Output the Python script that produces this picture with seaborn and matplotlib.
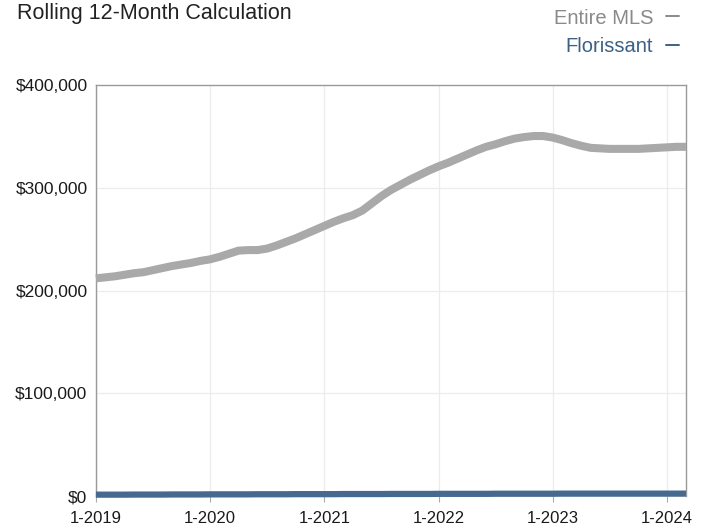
import matplotlib
matplotlib.use("Agg")
import matplotlib.pyplot as plt
from matplotlib.lines import Line2D
import pandas as pd
import seaborn as sns

# Monthly rolling 12-month values, Jan 2019 through Mar 2024
months = pd.date_range("2019-01-01", "2024-03-01", freq="MS")

entire_mls = [
    212000, 213000, 214000, 215500, 217000, 218000, 220000, 222000, 224000, 225500,
    227000, 229000, 230500, 233000, 236000, 239000, 239500, 239500, 241000, 244000,
    247500, 251000, 255000, 259000, 263000, 267000, 270500, 273500, 278000, 285000,
    292000, 298000, 303000, 308000, 312500, 317000, 321000, 324500, 328500, 332500,
    336500, 340000, 342500, 345500, 348000, 349500, 350500, 350500, 349000, 346500,
    343500, 341000, 339000, 338500, 338000, 338000, 338000, 338000, 338500, 339000,
    339500, 340000, 340000,
]

florissant = [
    1500, 1500, 1500, 1500, 1600, 1600, 1600, 1600, 1700, 1700,
    1700, 1700, 1800, 1800, 1800, 1800, 1800, 1900, 1900, 1900,
    1900, 2000, 2000, 2000, 2000, 2000, 2100, 2100, 2100, 2100,
    2100, 2200, 2200, 2200, 2200, 2200, 2300, 2300, 2300, 2300,
    2300, 2300, 2400, 2400, 2400, 2400, 2400, 2400, 2400, 2500,
    2500, 2500, 2500, 2500, 2500, 2500, 2500, 2500, 2500, 2500,
    2500, 2500, 2500,
]

series_names = ["Entire MLS", "Florissant"]
series_colors = ["#a9a9a9", "#45698f"]
legend_colors = ["#8a8a8a", "#3b6186"]

year_ticks = [0, 12, 24, 36, 48, 60]
year_labels = ["1-2019", "1-2020", "1-2021", "1-2022", "1-2023", "1-2024"]
y_ticks = [0, 100000, 200000, 300000, 400000]
y_labels = ["$0", "$100,000", "$200,000", "$300,000", "$400,000"]

sns.set_theme(style="white")
plt.rcParams["font.family"] = ["Liberation Sans", "DejaVu Sans"]

n = len(months)
df = pd.DataFrame({
    "idx": list(range(n)) * 2,
    "value": entire_mls + florissant,
    "series": [series_names[0]] * n + [series_names[1]] * n,
})

fig = plt.figure(figsize=(7.05, 5.29), dpi=100)
ax = fig.add_axes([0.136, 0.062, 0.837, 0.777])

ax.set_xlim(0, n - 1)
ax.set_ylim(0, 400000)

# faint grid
for t in year_ticks:
    ax.axvline(t, color="#ececec", lw=0.9, zorder=0)
for t in y_ticks[1:-1]:
    ax.axhline(t, color="#ececec", lw=0.9, zorder=0)

sns.lineplot(data=df[df["series"] == series_names[0]], x="idx", y="value",
             color=series_colors[0], lw=5.8, ax=ax, legend=False,
             solid_capstyle="butt", clip_on=False, zorder=3)
sns.lineplot(data=df[df["series"] == series_names[1]], x="idx", y="value",
             color=series_colors[1], lw=4.5, ax=ax, legend=False,
             solid_capstyle="butt", clip_on=False, zorder=4)

ax.set_xticks(year_ticks)
ax.set_xticklabels(year_labels)
ax.set_yticks(y_ticks)
ax.set_yticklabels(y_labels)
ax.set_xlabel("")
ax.set_ylabel("")
ax.tick_params(axis="x", length=4, width=0.8, color="#aaaaaa", pad=7,
               labelsize=12, labelcolor="#1a1a1a", bottom=True)
ax.tick_params(axis="y", length=0, pad=6, labelsize=12.5, labelcolor="#1a1a1a")

for side in ["left", "right", "top"]:
    ax.spines[side].set_color("#9a9a9a")
    ax.spines[side].set_linewidth(1.0)
ax.spines["bottom"].set_visible(False)

# title at the top left
fig.text(17 / 705, 1 - 19 / 529, "Rolling 12-Month Calculation",
         fontsize=15.5, color="#222222", ha="left", va="baseline")

# legend entries: label followed by a short dash
legend_y = [18, 47]
for name, col, yy in zip(series_names, legend_colors, legend_y):
    fy = 1 - yy / 529
    fig.text(653 / 705, fy, name, fontsize=14.5, color=col,
             ha="right", va="center")
    fig.add_artist(Line2D([666 / 705, 679 / 705], [fy + 0.003, fy + 0.003],
                          color=col, lw=1.4, transform=fig.transFigure))

fig.savefig("out.png", dpi=100)
